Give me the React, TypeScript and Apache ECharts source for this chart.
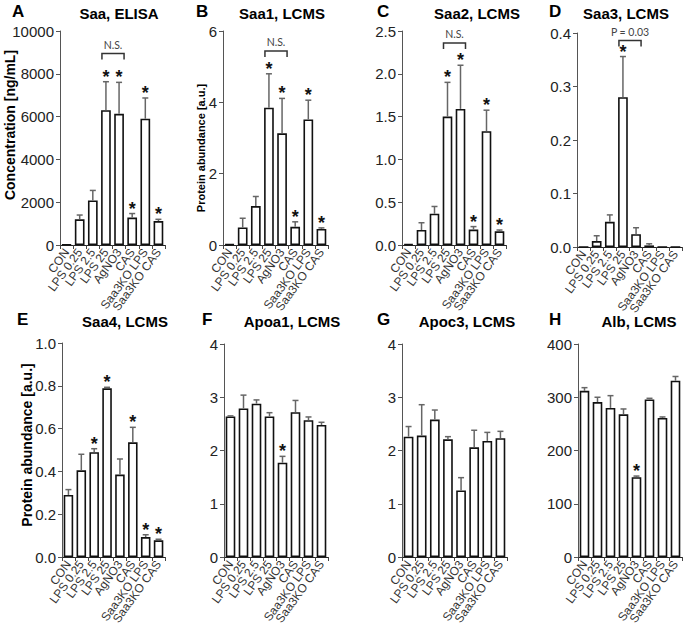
import React, { useEffect, useRef } from "react";
import * as echarts from "echarts";

const categories = ["CON", "LPS 0.25", "LPS 2.5", "LPS 25", "AgNO3", "CAS", "Saa3KO LPS", "Saa3KO CAS"];

// A: Saa, ELISA
const saaElisa = [20, 1200, 2080, 6300, 6130, 1280, 5900, 1120];
const saaElisaErr = [0, 200, 470, 1330, 1470, 190, 970, 80];
const saaElisaStar = [0, 0, 0, 1, 1, 1, 1, 1];
// B: Saa1, LCMS
const saa1 = [0.02, 0.49, 1.09, 3.85, 3.13, 0.51, 3.52, 0.45];
const saa1Err = [0, 0.26, 0.27, 0.95, 0.98, 0.14, 0.54, 0.03];
const saa1Star = [0, 0, 0, 1, 1, 1, 1, 1];
// C: Saa2, LCMS
const saa2 = [0.01, 0.175, 0.365, 1.5, 1.59, 0.18, 1.33, 0.16];
const saa2Err = [0, 0.085, 0.085, 0.4, 0.51, 0.035, 0.245, 0.015];
const saa2Star = [0, 0, 0, 1, 1, 1, 1, 1];
// D: Saa3, LCMS
const saa3 = [0, 0.011, 0.047, 0.28, 0.024, 0.003, 0, 0];
const saa3Err = [0, 0.01, 0.013, 0.076, 0.012, 0.003, 0, 0];
const saa3Star = [0, 0, 0, 1, 0, 0, 0, 0];
// E: Saa4, LCMS
const saa4 = [0.29, 0.405, 0.49, 0.788, 0.385, 0.536, 0.093, 0.078];
const saa4Err = [0.025, 0.075, 0.016, 0.005, 0.073, 0.07, 0.011, 0.005];
const saa4Star = [0, 0, 1, 1, 0, 1, 1, 1];
// F: Apoa1, LCMS
const apoa1 = [2.64, 2.79, 2.88, 2.64, 1.77, 2.72, 2.57, 2.48];
const apoa1Err = [0.01, 0.25, 0.07, 0.07, 0.12, 0.22, 0.06, 0.05];
const apoa1Star = [0, 0, 0, 0, 1, 0, 0, 0];
// G: Apoc3, LCMS
const apoc3 = [2.26, 2.28, 2.58, 2.21, 1.25, 2.06, 2.18, 2.23];
const apoc3Err = [0.19, 0.58, 0.18, 0.05, 0.24, 0.32, 0.16, 0.13];
const apoc3Star = [0, 0, 0, 0, 0, 0, 0, 0];
// H: Alb, LCMS
const alb = [312, 291, 280, 268, 150, 296, 261, 331];
const albErr = [6, 9, 23, 10, 2, 2, 2, 8];
const albStar = [0, 0, 0, 0, 1, 0, 0, 0];

// brackets: [fromIndex, toIndex, level]
const bracketA = [3, 4, 8950];
const bracketB = [3, 4, 5.44];
const bracketC = [3, 4, 2.36];
const bracketD = [3, 4, 0.386];
const bracketTextNS = "N.S.";
const bracketTextD = "P = 0.03";

const FONT = "'Liberation Sans', Arial, sans-serif";

type Panel = {
  letter: string;
  title: string;
  values: number[];
  errors: number[];
  stars: number[];
  max: number;
  interval: number;
  decimals: number;
  grid: { left: number; top: number; width: number; height: number };
  bracket?: number[];
  bracketText?: string;
};

const panels: Panel[] = [
  { letter: "A", title: "Saa, ELISA", values: saaElisa, errors: saaElisaErr, stars: saaElisaStar, max: 10000, interval: 2000, decimals: 0, grid: { left: 60, top: 31, width: 105, height: 214 }, bracket: bracketA, bracketText: bracketTextNS },
  { letter: "B", title: "Saa1, LCMS", values: saa1, errors: saa1Err, stars: saa1Star, max: 6, interval: 2, decimals: 0, grid: { left: 223, top: 31, width: 105, height: 214 }, bracket: bracketB, bracketText: bracketTextNS },
  { letter: "C", title: "Saa2, LCMS", values: saa2, errors: saa2Err, stars: saa2Star, max: 2.5, interval: 0.5, decimals: 1, grid: { left: 402, top: 31, width: 104, height: 214 }, bracket: bracketC, bracketText: bracketTextNS },
  { letter: "D", title: "Saa3, LCMS", values: saa3, errors: saa3Err, stars: saa3Star, max: 0.4, interval: 0.1, decimals: 1, grid: { left: 577, top: 33, width: 105, height: 214 }, bracket: bracketD, bracketText: bracketTextD },
  { letter: "E", title: "Saa4, LCMS", values: saa4, errors: saa4Err, stars: saa4Star, max: 1.0, interval: 0.2, decimals: 1, grid: { left: 62, top: 343, width: 103, height: 214 } },
  { letter: "F", title: "Apoa1, LCMS", values: apoa1, errors: apoa1Err, stars: apoa1Star, max: 4, interval: 1, decimals: 0, grid: { left: 224, top: 344, width: 104, height: 213 } },
  { letter: "G", title: "Apoc3, LCMS", values: apoc3, errors: apoc3Err, stars: apoc3Star, max: 4, interval: 1, decimals: 0, grid: { left: 402, top: 344, width: 105, height: 213 } },
  { letter: "H", title: "Alb, LCMS", values: alb, errors: albErr, stars: albStar, max: 400, interval: 100, decimals: 0, grid: { left: 578, top: 344, width: 104, height: 213 } },
];

// title positions (letter x, letter y, title center x, title y)
const titlePos = [
  [12, 12, 119, 13],
  [196, 12, 282, 13],
  [377, 12, 477, 13],
  [549, 12, 626, 13],
  [17, 320, 125, 321],
  [202, 320, 292, 321],
  [377, 320, 467, 321],
  [549, 320, 639, 321],
];

function buildOption() {
  const grid: any[] = [];
  const xAxis: any[] = [];
  const yAxis: any[] = [];
  const series: any[] = [];
  const graphic: any[] = [];

  panels.forEach((p, k) => {
    grid.push({ ...p.grid, containLabel: false });
    xAxis.push({
      type: "category",
      gridIndex: k,
      data: categories,
      axisLine: { show: true, lineStyle: { color: "#222", width: 1.2 } },
      axisTick: { show: true, length: 4, lineStyle: { color: "#444", width: 1 } },
      axisLabel: {
        rotate: 54,
        interval: 0,
        margin: 5,
        fontSize: 12,
        color: "#333",
        fontFamily: FONT,
      },
    });
    yAxis.push({
      type: "value",
      gridIndex: k,
      min: 0,
      max: p.max,
      interval: p.interval,
      splitLine: { show: false },
      axisLine: { show: true, lineStyle: { color: "#555", width: 1 } },
      axisTick: { show: true, length: 4, lineStyle: { color: "#555" } },
      axisLabel: {
        fontSize: 15,
        color: "#222",
        margin: 6,
        fontFamily: FONT,
        formatter: (v: number) => v.toFixed(p.decimals),
      },
    });
    series.push({
      type: "bar",
      xAxisIndex: k,
      yAxisIndex: k,
      data: p.values,
      barWidth: "74%",
      itemStyle: { color: "#fff", borderColor: "#111", borderWidth: 1.6 },
      z: 2,
    });
    series.push({
      type: "custom",
      xAxisIndex: k,
      yAxisIndex: k,
      z: 3,
      data: p.values.map((v, i) => [i, v, p.errors[i], p.stars[i]]),
      renderItem: (params: any, api: any) => {
        const i = api.value(0);
        const v = api.value(1);
        const e = api.value(2);
        const s = api.value(3);
        const base = api.coord([i, v]);
        const top = api.coord([i, v + e]);
        const children: any[] = [];
        if (e > 0) {
          children.push({
            type: "line",
            shape: { x1: base[0], y1: base[1], x2: top[0], y2: top[1] },
            style: { stroke: "#666", lineWidth: 1.5 },
          });
          children.push({
            type: "line",
            shape: { x1: top[0] - 3, y1: top[1], x2: top[0] + 3, y2: top[1] },
            style: { stroke: "#666", lineWidth: 1.5 },
          });
        }
        if (s) {
          children.push({
            type: "text",
            x: top[0],
            y: top[1] - 5,
            style: {
              text: "*",
              fontSize: 18,
              fontWeight: "bold",
              fontFamily: FONT,
              fill: "#111",
              align: "center",
              verticalAlign: "middle",
            },
          });
        }
        return { type: "group", children };
      },
    });
    if (p.bracket) {
      const txt = p.bracketText;
      series.push({
        type: "custom",
        xAxisIndex: k,
        yAxisIndex: k,
        z: 4,
        data: [p.bracket],
        renderItem: (params: any, api: any) => {
          const a = api.coord([api.value(0), api.value(2)]);
          const b = api.coord([api.value(1), api.value(2)]);
          const x1 = a[0] - 4;
          const x2 = b[0] + 5;
          const y = a[1];
          return {
            type: "group",
            children: [
              {
                type: "polyline",
                shape: { points: [[x1, y + 6], [x1, y], [x2, y], [x2, y + 6]] },
                style: { stroke: "#333", lineWidth: 1.5, fill: "none" },
              },
              {
                type: "text",
                x: (x1 + x2) / 2,
                y: y - 3,
                style: {
                  text: txt,
                  fontSize: 10.5,
                  fontFamily: "Lato, 'Liberation Sans', sans-serif",
                  fill: "#444",
                  align: "center",
                  verticalAlign: "bottom",
                },
              },
            ],
          };
        },
      });
    }
    const tp = titlePos[k];
    graphic.push({
      type: "text",
      left: tp[0],
      top: tp[1] - 9,
      style: { text: p.letter, fontSize: 17, fontWeight: "bold", fontFamily: FONT, fill: "#000" },
    });
    graphic.push({
      type: "text",
      x: tp[2],
      y: tp[3],
      style: { text: p.title, fontSize: 15, fontWeight: "bold", fontFamily: FONT, fill: "#000", align: "center", verticalAlign: "middle" },
    });
  });

  // y-axis names
  graphic.push({
    type: "text",
    x: 10,
    y: 125,
    rotation: Math.PI / 2,
    style: { text: "Concentration [ng/mL]", fontSize: 14, fontWeight: "bold", fontFamily: FONT, fill: "#000", align: "center", verticalAlign: "middle" },
  });
  graphic.push({
    type: "text",
    x: 201,
    y: 148,
    rotation: Math.PI / 2,
    style: { text: "Protein abundance [a.u.]", fontSize: 11, fontWeight: "bold", fontFamily: FONT, fill: "#000", align: "center", verticalAlign: "middle" },
  });
  graphic.push({
    type: "text",
    x: 27,
    y: 445,
    rotation: Math.PI / 2,
    style: { text: "Protein abundance [a.u.]", fontSize: 14, fontWeight: "bold", fontFamily: FONT, fill: "#000", align: "center", verticalAlign: "middle" },
  });

  return {
    animation: false,
    backgroundColor: "#fff",
    grid,
    xAxis,
    yAxis,
    series,
    graphic,
  };
}

export default function App() {
  const ref = useRef<HTMLDivElement>(null);
  useEffect(() => {
    if (!ref.current) return;
    const chart = echarts.init(ref.current, undefined, { renderer: "svg" });
    chart.setOption(buildOption() as any);
    return () => chart.dispose();
  }, []);
  return <div ref={ref} style={{ position: "absolute", left: 0, top: 0, width: 685, height: 629 }} />;
}
